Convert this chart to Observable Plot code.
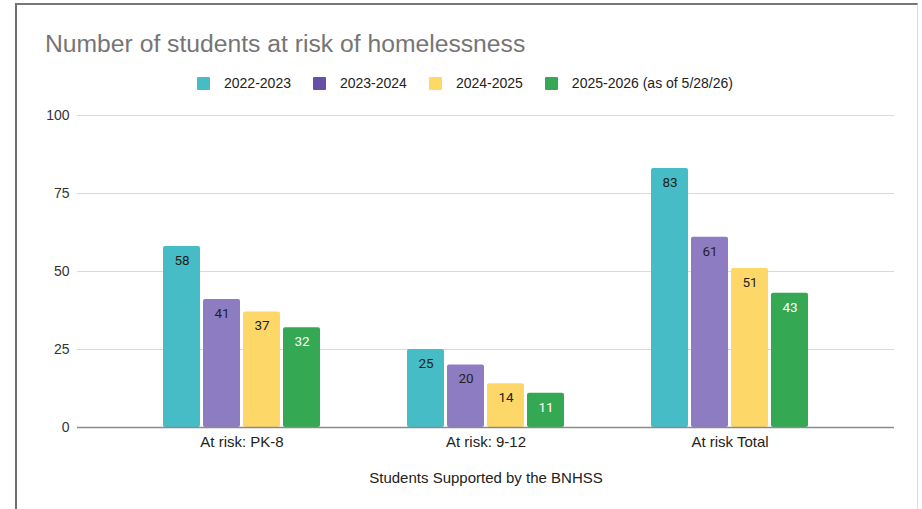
<!DOCTYPE html>
<html>
<head>
<meta charset="utf-8">
<script src="https://cdn.jsdelivr.net/npm/d3@7"></script>
<script src="https://cdn.jsdelivr.net/npm/@observablehq/plot@0.6"></script>
<style>
  html, body { margin: 0; padding: 0; background: #fff; }
  body { width: 922px; height: 509px; position: relative; overflow: hidden; font-family: Arial, "Liberation Sans", sans-serif; }
  #frame { position: absolute; left: 15px; top: 3px; width: 903px; height: 530px; border-left: 2px solid #6e6e6e; border-top: 2px solid #777; border-right: 1px solid #dedede; box-sizing: border-box; }
  #title { position: absolute; left: 45px; top: 32px; font-size: 24.7px; color: #757575; white-space: nowrap; line-height: 1; }
  #legend { position: absolute; top: 75px; left: 197px; display: flex; align-items: center; font-size: 14px; color: #222; white-space: nowrap; }
  .item { display: flex; align-items: center; margin-right: 22px; }
  .sw { width: 13px; height: 13px; margin-right: 14px; border-radius: 1px; }
  #chart { position: absolute; left: 0; top: 95px; }
</style>
</head>
<body>
<div id="frame"></div>
<div id="title">Number of students at risk of homelessness</div>
<div id="legend"></div>
<div id="chart"></div>
<script>
const categories = ["At risk: PK-8", "At risk: 9-12", "At risk Total"];
const years = ["2022-2023", "2023-2024", "2024-2025", "2025-2026 (as of 5/28/26)"];
const values2022 = [58, 25, 83];
const values2023 = [41, 20, 61];
const values2024 = [37, 14, 51];
const values2025 = [32, 11, 43];
const yTicks = [0, 25, 50, 75, 100];
const barColors = ["#46bdc6", "#8e7cc3", "#fdd868", "#34a853"];
const legendColors = ["#46bdc6", "#674ea7", "#ffd966", "#34a853"];
const labelColors = ["#1f1f1f", "#1f1f1f", "#1f1f1f", "#ffffff"];
const xTitle = "Students Supported by the BNHSS";

const series = [values2022, values2023, values2024, values2025];
const data = [];
series.forEach((vals, i) => vals.forEach((v, j) => data.push({category: categories[j], year: years[i], yi: i, value: v})));

// legend
const legend = document.getElementById("legend");
years.forEach((y, i) => {
  const it = document.createElement("div");
  it.className = "item";
  const sw = document.createElement("div");
  sw.className = "sw";
  sw.style.background = legendColors[i];
  const t = document.createElement("span");
  t.textContent = y;
  it.appendChild(sw); it.appendChild(t);
  legend.appendChild(it);
});

const pitch = 40, barW = 37, groupW = 157;
const barMarks = [];
const textMarks = [];
years.forEach((y, i) => {
  const d = data.filter(r => r.yi === i);
  barMarks.push(Plot.barY(d, {
    x: "category", y: "value", fill: barColors[i],
    insetLeft: i * pitch, insetRight: groupW - i * pitch - barW, rx: 2
  }));
  textMarks.push(Plot.text(d, {
    x: "category", y: "value", text: d => String(d.value),
    dx: (i - 1.5) * pitch, dy: 14, fill: labelColors[i],
    fontSize: 13.5, fontFamily: "Roboto, Arial, sans-serif"
  }));
});

const chart = Plot.plot({
  width: 922,
  height: 400,
  marginLeft: 77,
  marginRight: 28,
  marginTop: 20,
  marginBottom: 68,
  style: {fontFamily: "Arial, 'Liberation Sans', sans-serif", fontSize: "14px", color: "#333", background: "transparent"},
  x: {domain: categories, paddingInner: 0.357, paddingOuter: 0.352},
  y: {domain: [0, 100]},
  marks: [
    Plot.ruleY(yTicks.filter(t => t > 0), {stroke: "#d9d9d9", strokeWidth: 1}),
    ...barMarks,
    Plot.ruleY([0], {stroke: "#8a8a8a", strokeWidth: 1.5}),
    ...textMarks,
    Plot.axisY({ticks: yTicks, tickSize: 0, tickPadding: 8, label: null, fill: "#333", fontSize: 14}),
    Plot.axisX({tickSize: 0, tickPadding: 9, label: xTitle, labelAnchor: "center", labelOffset: 55, fill: "#222", fontSize: 15})
  ]
});
document.getElementById("chart").appendChild(chart);
</script>
</body>
</html>
